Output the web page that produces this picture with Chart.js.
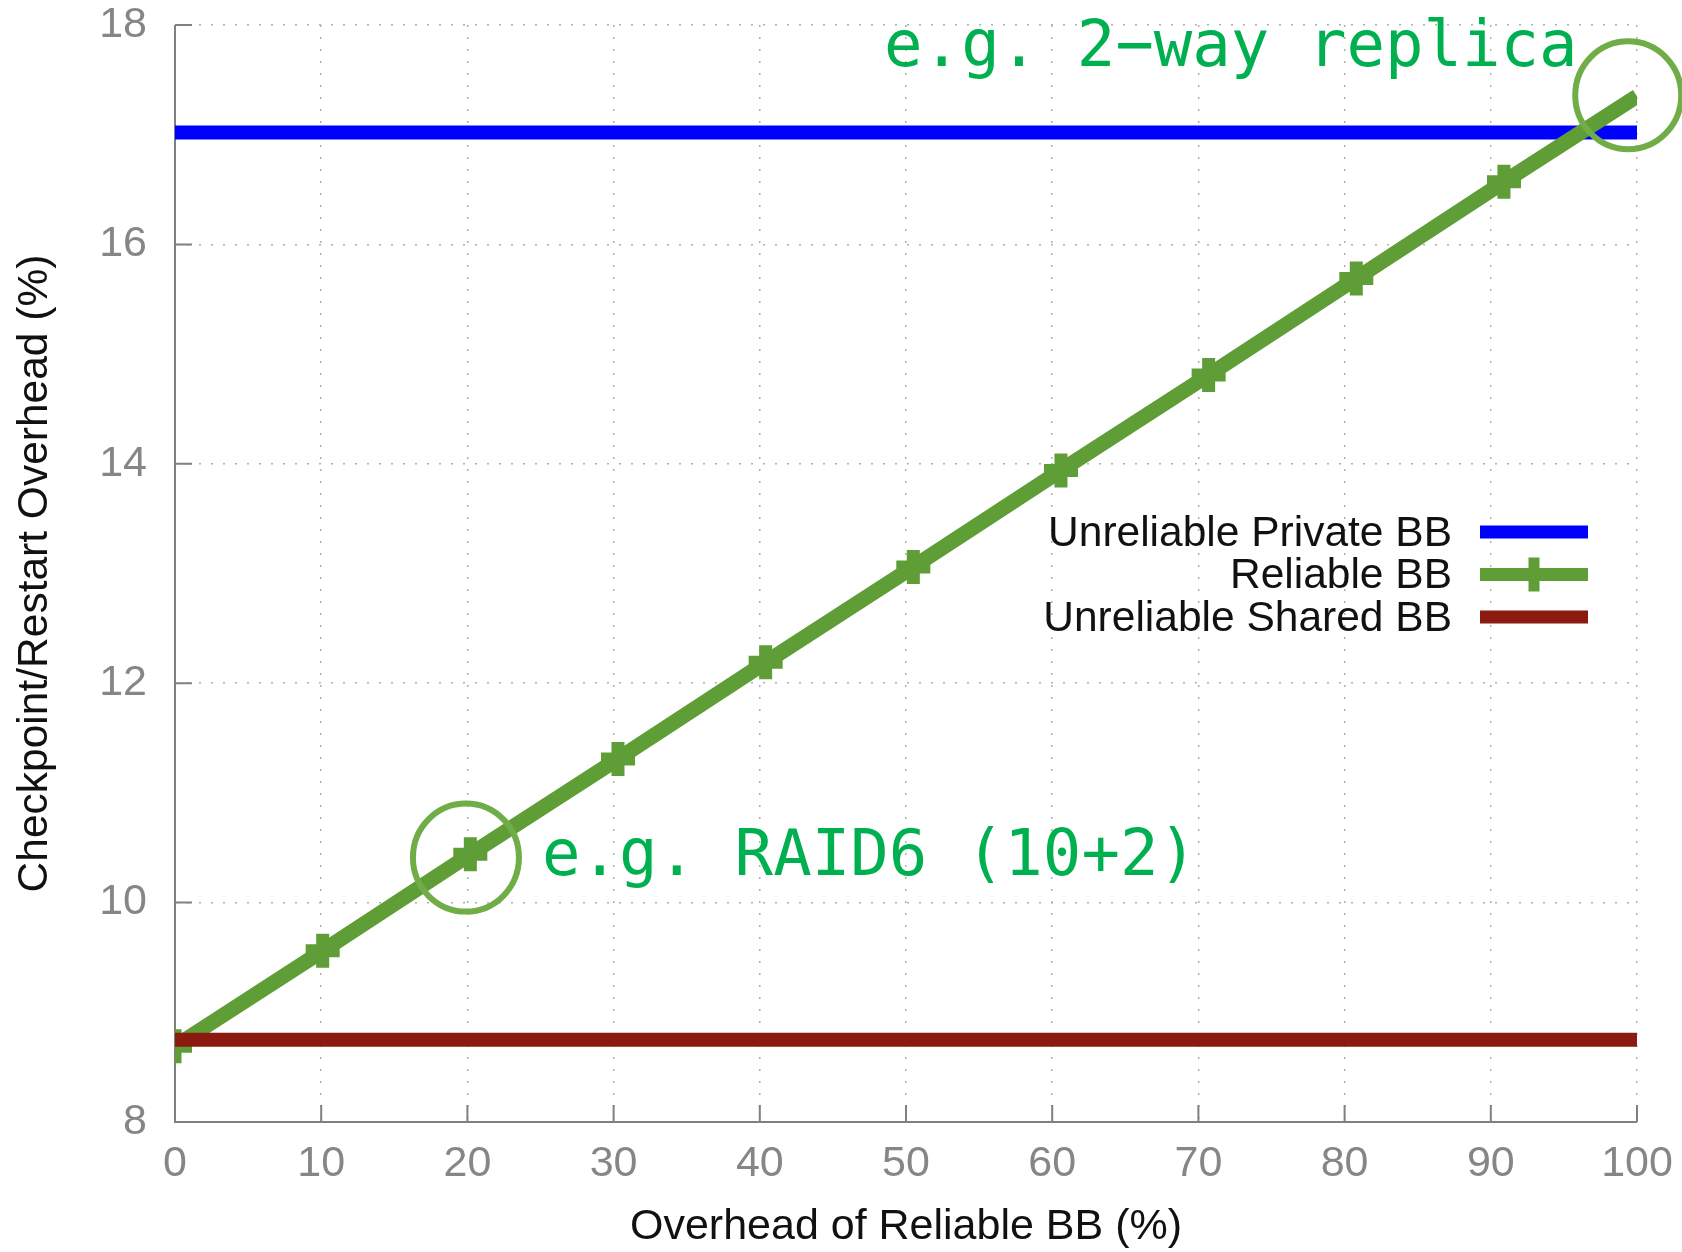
<!DOCTYPE html>
<html>
<head>
<meta charset="utf-8">
<script src="https://cdn.jsdelivr.net/npm/chart.js@4.4.0/dist/chart.umd.min.js"></script>
<style>
  html, body { margin: 0; padding: 0; background: #ffffff; }
  #chart { display: block; }
</style>
</head>
<body>
<canvas id="chart" width="1682" height="1252"></canvas>
<script>
// Sample positions of the "Reliable BB" curve (x = overhead of reliable BB, %)
const reliableX = [0, 10.1, 20.2, 30.3, 40.4, 50.5, 60.6, 70.7, 80.8, 90.9, 100];
const reliableOverhead = [8.69, 9.56, 10.44, 11.31, 12.19, 13.06, 13.94, 14.81, 15.69, 16.57, 17.35];

// Flat reference lines
const flatX = [0, 100];
const privateOverhead = [17.02, 17.02];
const sharedOverhead = [8.75, 8.75];

const seriesLabels = ['Unreliable Private BB', 'Reliable BB', 'Unreliable Shared BB'];
const xTicks = [0, 10, 20, 30, 40, 50, 60, 70, 80, 90, 100];
const yTicks = [8, 10, 12, 14, 16, 18];

// Callouts: text + the point they circle (data coords)
const callouts = [
    { text: 'e.g. 2\u2212way replica', circleX: 99.4, circleY: 17.36, textX: 48.5, textY: 17.63 },
    { text: 'e.g. RAID6 (10+2)', circleX: 19.9, circleY: 10.41, textX: 25.1, textY: 10.25 }
];

const BLUE = '#0000ff';
const GREEN = '#5f9d36';
const BROWN = '#8b1a10';
const AXIS_GREY = '#808080';

function toPoints(xs, ys) {
    return xs.map((x, i) => ({ x: x, y: ys[i] }));
}

// Draws the gnuplot style axes: solid left/bottom lines with inward ticks
const axesPlugin = {
    id: 'gnuplotAxes',
    beforeDatasetsDraw(chart) {
        const { ctx, chartArea, scales } = chart;
        const tick = 17;
        ctx.save();
        ctx.strokeStyle = AXIS_GREY;
        ctx.lineWidth = 2;
        ctx.beginPath();
        ctx.moveTo(chartArea.left, chartArea.top);
        ctx.lineTo(chartArea.left, chartArea.bottom);
        ctx.lineTo(chartArea.right, chartArea.bottom);
        yTicks.forEach(v => {
            const y = scales.y.getPixelForValue(v);
            ctx.moveTo(chartArea.left, y);
            ctx.lineTo(chartArea.left + tick, y);
        });
        xTicks.forEach(v => {
            const x = scales.x.getPixelForValue(v);
            ctx.moveTo(x, chartArea.bottom);
            ctx.lineTo(x, chartArea.bottom - tick);
        });
        ctx.stroke();
        ctx.restore();
    }
};

// Legend (text right-aligned, sample to the right) and the green callouts
const overlayPlugin = {
    id: 'overlay',
    afterDraw(chart) {
        const { ctx, scales } = chart;
        ctx.save();

        // legend
        const textRight = 1452;
        const sampleLeft = 1480;
        const sampleRight = 1588;
        const rowTop = 532;
        const rowGap = 42.5;
        ctx.font = '42.5px "Liberation Sans", Arial, sans-serif';
        ctx.textAlign = 'right';
        ctx.textBaseline = 'middle';
        chart.data.datasets.forEach((ds, i) => {
            const y = rowTop + i * rowGap;
            ctx.fillStyle = '#111111';
            ctx.fillText(seriesLabels[i], textRight, y + 2);
            ctx.strokeStyle = ds.borderColor;
            ctx.lineWidth = 13;
            ctx.lineCap = 'butt';
            ctx.beginPath();
            ctx.moveTo(sampleLeft, y);
            ctx.lineTo(sampleRight, y);
            ctx.stroke();
            if (ds.pointStyle === 'cross') {
                const cx = (sampleLeft + sampleRight) / 2;
                ctx.lineWidth = 11;
                ctx.beginPath();
                ctx.moveTo(cx, y - 17);
                ctx.lineTo(cx, y + 17);
                ctx.stroke();
            }
        });

        // callouts
        ctx.font = '64px "DejaVu Sans Mono", monospace';
        ctx.textAlign = 'left';
        ctx.textBaseline = 'alphabetic';
        callouts.forEach(c => {
            const cx = scales.x.getPixelForValue(c.circleX);
            const cy = scales.y.getPixelForValue(c.circleY);
            ctx.strokeStyle = '#70ad47';
            ctx.lineWidth = 6;
            ctx.beginPath();
            ctx.ellipse(cx, cy, 53, 54, 0, 0, Math.PI * 2);
            ctx.stroke();
            ctx.fillStyle = '#00b050';
            ctx.fillText(c.text, scales.x.getPixelForValue(c.textX), scales.y.getPixelForValue(c.textY));
        });
        ctx.restore();
    }
};

const gridOpts = {
    color: '#b0b0b0',
    lineWidth: 1.5,
    drawTicks: false
};

const ctx = document.getElementById('chart').getContext('2d');
new Chart(ctx, {
    type: 'line',
    data: {
        datasets: [
            {
                label: seriesLabels[0],
                data: toPoints(flatX, privateOverhead),
                borderColor: BLUE,
                borderWidth: 14,
                pointRadius: 0,
                order: 2
            },
            {
                label: seriesLabels[1],
                data: toPoints(reliableX, reliableOverhead),
                borderColor: GREEN,
                backgroundColor: GREEN,
                borderWidth: 15,
                pointStyle: 'cross',
                pointRadius: reliableX.map(x => x >= 100 ? 0 : 17),
                pointBorderWidth: 13,
                pointBorderColor: GREEN,
                order: 1
            },
            {
                label: seriesLabels[2],
                data: toPoints(flatX, sharedOverhead),
                borderColor: BROWN,
                borderWidth: 14,
                pointRadius: 0,
                order: 0
            }
        ]
    },
    options: {
        responsive: false,
        animation: false,
        devicePixelRatio: 1,
        layout: {
            autoPadding: false,
            padding: { left: 0, top: 25, right: 45, bottom: 0 }
        },
        plugins: {
            legend: { display: false },
            tooltip: { enabled: false }
        },
        scales: {
            x: {
                type: 'linear',
                min: 0,
                max: 100,
                afterBuildTicks: scale => { scale.ticks = xTicks.map(v => ({ value: v })); },
                afterFit: scale => {
                    scale.height = 130;
                    scale.paddingLeft = 0;
                    scale.paddingRight = 0;
                },
                grid: gridOpts,
                border: { display: false, dash: [2, 10] },
                ticks: {
                    color: '#868686',
                    padding: 21,
                    maxRotation: 0,
                    font: { family: '"Liberation Sans", Arial, sans-serif', size: 43, lineHeight: 1 }
                },
                title: {
                    display: true,
                    text: 'Overhead of Reliable BB (%)',
                    color: '#111111',
                    padding: { top: 0, bottom: 3 },
                    font: { family: '"Liberation Sans", Arial, sans-serif', size: 43, lineHeight: 1 }
                }
            },
            y: {
                type: 'linear',
                min: 8,
                max: 18,
                afterBuildTicks: scale => { scale.ticks = yTicks.map(v => ({ value: v })); },
                afterFit: scale => {
                    scale.width = 175;
                    scale.paddingTop = 0;
                    scale.paddingBottom = 0;
                },
                grid: gridOpts,
                border: { display: false, dash: [2, 10] },
                ticks: {
                    color: '#868686',
                    padding: 28,
                    font: { family: '"Liberation Sans", Arial, sans-serif', size: 43, lineHeight: 1 }
                },
                title: {
                    display: true,
                    text: 'Checkpoint/Restart Overhead (%)',
                    color: '#111111',
                    padding: { top: 14, bottom: 0 },
                    font: { family: '"Liberation Sans", Arial, sans-serif', size: 42.5, lineHeight: 1 }
                }
            }
        }
    },
    plugins: [axesPlugin, overlayPlugin]
});
</script>
</body>
</html>
